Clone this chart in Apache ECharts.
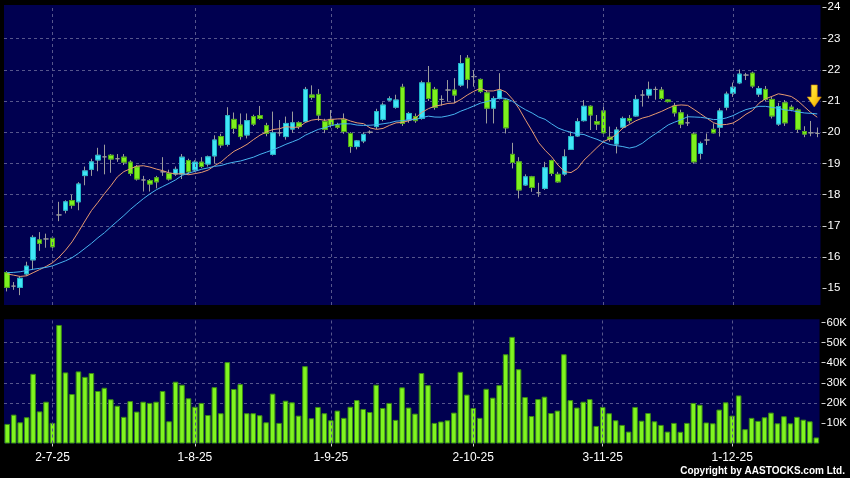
<!DOCTYPE html>
<html>
<head>
<meta charset="utf-8">
<script src="https://cdn.jsdelivr.net/npm/echarts@6.0.0/dist/echarts.min.js"></script>
<style>
html,body{margin:0;padding:0;background:#000;}
#chart{width:850px;height:478px;}
</style>
</head>
<body>
<div id="chart"></div>
<script>
// ---- Data ----
const dates = [
'20-6-25','23-6-25','24-6-25','25-6-25','26-6-25','27-6-25','30-6-25',
'2-7-25','3-7-25','4-7-25','7-7-25','8-7-25','9-7-25','10-7-25','11-7-25','14-7-25','15-7-25','16-7-25','17-7-25','18-7-25','21-7-25','22-7-25','23-7-25','24-7-25','25-7-25','28-7-25','29-7-25','30-7-25','31-7-25',
'1-8-25','4-8-25','5-8-25','6-8-25','7-8-25','8-8-25','11-8-25','12-8-25','13-8-25','14-8-25','15-8-25','18-8-25','19-8-25','20-8-25','21-8-25','22-8-25','25-8-25','26-8-25','27-8-25','28-8-25','29-8-25',
'1-9-25','2-9-25','3-9-25','4-9-25','5-9-25','8-9-25','9-9-25','10-9-25','11-9-25','12-9-25','15-9-25','16-9-25','17-9-25','18-9-25','19-9-25','22-9-25','23-9-25','24-9-25','25-9-25','26-9-25','29-9-25','30-9-25',
'2-10-25','3-10-25','6-10-25','8-10-25','9-10-25','10-10-25','13-10-25','14-10-25','15-10-25','16-10-25','17-10-25','20-10-25','21-10-25','22-10-25','23-10-25','24-10-25','27-10-25','28-10-25','30-10-25','31-10-25',
'3-11-25','4-11-25','5-11-25','6-11-25','7-11-25','10-11-25','11-11-25','12-11-25','13-11-25','14-11-25','17-11-25','18-11-25','19-11-25','20-11-25','21-11-25','24-11-25','25-11-25','26-11-25','27-11-25','28-11-25',
'1-12-25','2-12-25','3-12-25','4-12-25','5-12-25','8-12-25','9-12-25','10-12-25','11-12-25','12-12-25','15-12-25','16-12-25','17-12-25','18-12-25'
];
const labelDates = ['2-7-25','1-8-25','1-9-25','2-10-25','3-11-25','1-12-25'];

const openP = [15.50,15.07,15.03,15.46,15.91,16.55,16.58,16.60,17.35,17.50,17.81,17.77,18.61,18.81,19.11,19.21,19.26,19.15,19.20,19.04,18.89,18.47,18.45,18.54,18.73,18.68,18.66,18.66,19.09,18.79,19.04,18.98,19.24,19.86,
19.61,20.41,20.23,19.91,20.50,20.53,20.21,19.29,19.98,19.86,20.10,20.30,20.34,21.19,21.21,20.34,20.41,20.23,20.41,19.96,19.54,19.72,20.00,20.18,20.41,21.03,20.80,21.44,20.39,20.50,20.44,21.58,21.37,21.05,21.35,21.35,21.51,22.37,21.78,21.69,21.26,20.77,21.08,21.03,19.29,19.05,18.31,18.57,18.06,18.20,19.09,18.65,18.66,19.45,19.88,20.37,20.83,20.34,20.68,19.84,19.62,20.16,20.44,20.52,21.19,21.19,21.37,21.35,21.03,20.84,20.62,20.30,19.94,19.32,19.75,20.09,20.16,20.80,21.25,21.58,21.83,21.89,21.22,21.37,21.05,20.26,20.94,20.80,20.71,20.02,19.98,19.96];
const closeP = [15.03,15.07,15.32,15.71,16.63,16.44,16.58,16.33,17.35,17.77,17.66,18.34,18.76,19.05,19.26,19.21,19.14,19.15,19.04,18.68,18.50,18.47,18.34,18.41,18.73,18.50,18.81,19.20,18.73,19.04,18.90,19.21,19.75,19.59,
20.53,20.12,19.86,20.37,20.26,20.44,19.96,19.98,19.98,20.28,20.30,20.18,21.37,21.12,20.55,20.09,20.23,20.16,20.02,19.54,19.72,19.93,20.00,20.66,20.87,21.07,21.03,20.28,20.60,20.37,21.58,21.08,20.80,21.05,21.35,21.19,22.20,21.69,21.78,21.30,20.77,21.08,21.33,20.14,19.03,18.15,18.57,18.23,18.06,18.86,18.68,18.41,19.21,19.86,20.34,20.83,20.55,20.26,19.98,19.77,20.07,20.44,20.37,21.05,21.19,21.37,21.37,21.08,20.98,20.62,20.26,20.30,19.05,19.64,19.75,19.98,20.68,21.22,21.44,21.86,21.83,21.48,21.40,21.05,20.52,20.82,20.30,20.73,20.09,19.94,19.98,19.96];
const lowP = [14.90,14.95,14.78,15.40,15.60,16.20,16.30,16.25,17.15,17.40,17.55,17.50,18.30,18.60,18.75,18.65,18.70,19.05,18.95,18.60,18.45,18.10,18.10,18.20,18.60,18.45,18.60,18.50,18.65,18.75,18.85,18.90,19.00,19.50,
19.54,19.95,19.76,19.80,20.20,20.40,19.87,19.25,19.87,19.76,19.98,20.10,20.30,21.04,20.36,19.97,20.15,20.10,19.95,19.34,19.45,19.65,19.95,20.10,20.35,21.00,20.75,20.20,20.30,20.30,20.40,21.00,20.72,20.85,20.98,20.93,21.45,21.40,21.46,21.25,20.28,20.28,21.05,19.96,18.84,17.88,18.28,18.09,17.93,18.15,18.60,18.38,18.60,19.43,19.85,20.34,20.07,20.07,19.95,19.70,19.32,20.10,20.28,20.50,20.82,21.08,21.04,21.03,20.95,20.50,20.13,20.20,18.99,19.13,19.59,19.96,19.86,20.70,21.13,21.54,21.67,21.41,21.13,20.98,20.44,20.20,20.20,20.67,19.98,19.84,19.87,19.84];
const highP = [15.55,15.20,15.38,15.85,16.70,16.80,16.75,16.65,17.77,17.82,18.00,18.40,18.90,19.15,19.50,19.60,19.30,19.30,19.30,19.10,18.95,18.60,18.50,18.60,19.20,18.80,18.90,19.30,19.15,19.10,19.20,19.25,19.90,19.95,
20.80,20.63,20.60,20.60,20.56,20.84,20.30,20.66,20.39,20.50,20.66,20.35,21.45,21.50,21.38,20.43,20.71,20.30,20.60,20.00,19.75,20.00,20.06,20.75,20.95,21.15,21.20,21.55,20.65,20.60,21.65,22.12,21.45,21.18,21.67,21.73,22.47,22.47,21.99,21.72,21.35,21.15,21.89,21.06,19.66,19.20,18.65,18.60,18.38,19.05,19.12,18.73,19.45,20.02,20.45,21.03,20.86,20.55,20.93,20.18,20.17,20.50,20.55,21.19,21.35,21.62,21.46,21.45,21.05,20.94,20.72,20.57,20.00,19.70,19.96,20.28,20.77,21.30,21.59,22.01,21.90,21.94,21.48,21.48,21.13,20.94,21.03,20.88,20.77,20.19,20.36,20.15];

// volume in thousands of shares
const volumeK = [9.7,14.3,10.5,13.0,34.5,15.9,20.7,10.2,58.7,35.2,24.5,35.7,33.0,34.9,26.0,27.6,21.9,18.7,13.2,21.0,15.8,20.7,20.1,20.7,26.0,11.0,30.6,29.1,22.4,18.2,20.1,14.1,27.9,15.0,40.3,27.0,29.4,15.0,15.0,14.0,10.5,24.7,10.2,21.2,20.4,13.8,38.3,
12.5,18.1,15.0,11.5,16.3,12.7,18.2,21.5,17.1,15.6,29.1,17.6,20.1,11.7,27.8,17.8,14.8,
34.9,
28.9,10.2,10.9,11.5,15.3,35.5,24.2,17.6,12.7,27.1,22.7,28.9,44.2,52.8,36.8,23.0,13.6,22.0,23.2,15.1,16.3,44.2,21.5,17.8,20.7,22.0,8.7,18.1,15.0,11.5,9.2,5.9,18.1,11.3,15.1,11.0,9.2,5.9,10.2,5.8,10.2,20.1,19.2,10.4,10.0,16.8,20.4,13.8,23.8,7.1,12.7,11.2,13.0,15.3,10.0,13.5,10.0,13.2,11.8,11.0,3.0];

// moving-average values before a full window exists
const ma10Lead = [15.46,15.42,15.38,15.40,15.50,15.60,15.70,15.82,16.00];
const ma20Lead = [15.50,15.51,15.53,15.57,15.61,15.64,15.67,15.72,15.80,15.88,15.98,16.12,16.28,16.44,16.62,16.78,16.97,17.15,17.33];

const priceTicks = [15,16,17,18,19,20,21,22,23,24];
const volTicks = [10000,20000,30000,40000,50000,60000];

// ---- derived ----
function sma(n, lead) {
  return closeP.map((c, i) => {
    if (i < n - 1) return lead[i];
    let s = 0;
    for (let k = i - n + 1; k <= i; k++) s += closeP[k];
    return +(s / n).toFixed(3);
  });
}
const ma10 = sma(10, ma10Lead);
const ma20 = sma(20, ma20Lead);

const ohlcFull = dates.map((d, i) => [openP[i], closeP[i], lowP[i], highP[i]]);
const ohlcBody = dates.map((d, i) => openP[i] === closeP[i] ? '-' :
  [openP[i], closeP[i], Math.min(openP[i], closeP[i]), Math.max(openP[i], closeP[i])]);
const volume = volumeK.map(v => Math.round(v * 1000));

const gridColor = '#56568c';
const navy = '#000050';
const fontFam = '"Liberation Sans", Arial, sans-serif';
const showLabel = (idx, val) => labelDates.indexOf(val) >= 0;
const vLines = labelDates.map(d => ({ xAxis: d }));

const chart = echarts.init(document.getElementById('chart'), null, { renderer: 'canvas' });
chart.setOption({
  backgroundColor: '#000',
  animation: false,
  grid: [
    { left: 4, right: 29.5, top: 5, height: 300, show: true, backgroundColor: navy, borderWidth: 0 },
    { left: 4, right: 29.5, top: 319.3, height: 124.2, show: true, backgroundColor: navy, borderWidth: 0 }
  ],
  xAxis: [
    { type: 'category', gridIndex: 0, data: dates, boundaryGap: true,
      axisLine: { show: false }, axisTick: { show: false }, axisLabel: { show: false }, splitLine: { show: false } },
    { type: 'category', gridIndex: 1, data: dates, boundaryGap: true, offset: 3,
      axisLine: { show: false },
      axisTick: { show: true, interval: showLabel, alignWithLabel: true, length: 3, lineStyle: { color: '#d0d0d0' } },
      axisLabel: { interval: showLabel, color: '#ffffff', fontSize: 12, fontFamily: fontFam, margin: 5 },
      splitLine: { show: false } }
  ],
  yAxis: [
    { type: 'value', gridIndex: 0, position: 'right', min: 14.465, max: 24.074, splitNumber: 10, offset: 2, scale: true,
      axisLine: { show: false },
      axisTick: { show: true, length: 4, lineStyle: { color: '#d0d0d0' }, customValues: priceTicks },
      axisLabel: { color: '#ffffff', fontSize: 11.5, fontFamily: fontFam, margin: 5, customValues: priceTicks },
      splitLine: { show: true, showMinLine: false, showMaxLine: false, lineStyle: { color: gridColor, type: [3, 3], width: 1 } } },
    { type: 'value', gridIndex: 1, position: 'right', min: 0, max: 61500, interval: 10000, offset: 2,
      axisLine: { show: false },
      axisTick: { show: true, length: 4, lineStyle: { color: '#d0d0d0' }, customValues: volTicks },
      axisLabel: { color: '#ffffff', fontSize: 11.5, fontFamily: fontFam, margin: 5, customValues: volTicks,
                   formatter: v => (v / 1000) + 'K' },
      splitLine: { show: true, showMinLine: false, showMaxLine: false, lineStyle: { color: gridColor, type: [3, 3], width: 1 } } }
  ],
  series: [
    { type: 'line', xAxisIndex: 0, yAxisIndex: 0, data: [], z: 1, silent: true,
      markLine: { silent: true, symbol: ['none', 'none'], label: { show: false },
        lineStyle: { color: gridColor, type: [3, 3], width: 1 }, data: vLines } },
    { type: 'line', xAxisIndex: 1, yAxisIndex: 1, data: [], z: 1, silent: true,
      markLine: { silent: true, symbol: ['none', 'none'], label: { show: false },
        lineStyle: { color: gridColor, type: [3, 3], width: 1 }, data: vLines } },
    { name: 'wick', type: 'candlestick', xAxisIndex: 0, yAxisIndex: 0, data: ohlcFull, barWidth: 5, z: 3,
      itemStyle: { color: 'rgba(0,0,0,0)', color0: 'rgba(0,0,0,0)', borderColor: '#9c9c9c', borderColor0: '#9c9c9c',
                   borderColorDoji: '#9c9c9c', borderWidth: 1 } },
    { name: 'body', type: 'candlestick', xAxisIndex: 0, yAxisIndex: 0, data: ohlcBody, barWidth: 5, z: 4,
      itemStyle: { color: '#40e6f6', color0: '#7ef01e', borderColor: '#20b4c8', borderColor0: '#4aa814', borderWidth: 1 } },
    { name: 'MA10', type: 'line', xAxisIndex: 0, yAxisIndex: 0, data: ma10, showSymbol: false, smooth: false, z: 5,
      lineStyle: { color: '#e89a70', width: 1 } },
    { name: 'MA20', type: 'line', xAxisIndex: 0, yAxisIndex: 0, data: ma20, showSymbol: false, smooth: false, z: 6,
      lineStyle: { color: '#48b4f0', width: 1 },
      markPoint: { silent: true, symbol: 'path://M4,0 L10,0 L10,12 L14,12 L7,22 L0,12 L4,12 Z',
        symbolSize: [14, 22], symbolOffset: [-3, 0], label: { show: false },
        itemStyle: { color: new echarts.graphic.LinearGradient(0, 0, 1, 1, [
          { offset: 0, color: '#fff25a' }, { offset: 0.55, color: '#ffd21a' }, { offset: 1, color: '#e09000' }]),
          borderColor: '#d08a00', borderWidth: 0.6 },
        data: [{ coord: [dates[dates.length - 1], 21.16] }] } },
    { name: 'Volume', type: 'bar', xAxisIndex: 1, yAxisIndex: 1, data: volume, barCategoryGap: '14%', z: 3,
      itemStyle: { color: '#80f420', borderColor: '#3a8c14', borderWidth: 1 } }
  ],
  graphic: [
    { type: 'text', right: 5, top: 466, silent: true,
      style: { text: 'Copyright by AASTOCKS.com Ltd.', fill: '#ffffff', font: 'bold 10px "Liberation Sans", Arial, sans-serif' } }
  ]
});
</script>
</body>
</html>
